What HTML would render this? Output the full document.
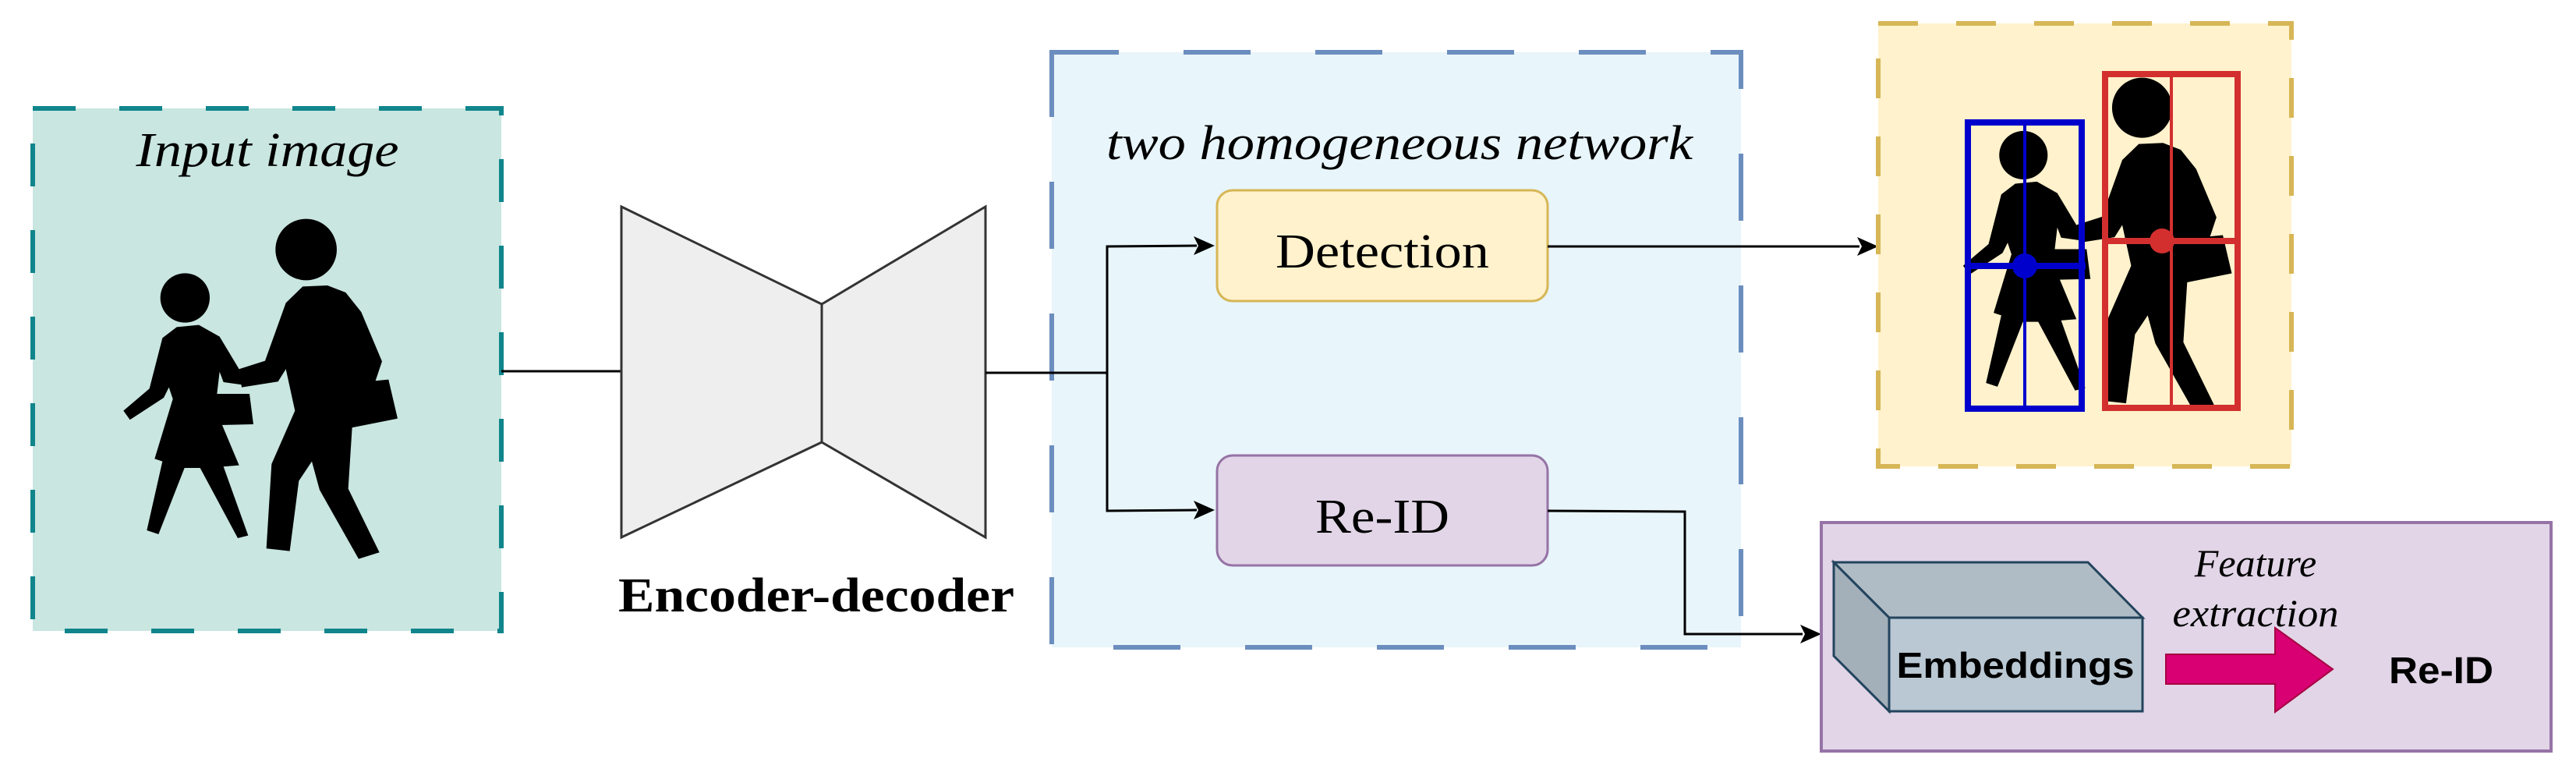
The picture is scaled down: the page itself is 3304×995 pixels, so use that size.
<!DOCTYPE html>
<html><head><meta charset="utf-8"><style>
html,body{margin:0;padding:0;background:#fff;}
svg{display:block;}
</style></head><body>
<svg width="3304" height="995" viewBox="0 0 3304 995" xmlns="http://www.w3.org/2000/svg">
<defs>
<g id="fig">
  <circle cx="262" cy="366" r="95" fill="#000"/>
  <path fill="#000" d="M230,478 L315,470 L395,515 L470,640 L480,700 L410,690 L395,650 L385,735 L410,735 L405,855 L470,1010 L410,1015 L505,1280 L465,1290 L320,1020 L260,1020 L160,1275 L115,1260 L175,995 L145,985 L215,755 L200,710 L180,750 L50,835 L25,800 L125,715 L175,520 Z"/>
  <path fill="#000" d="M378,735 L510,735 L525,852 L400,855 Z"/>
  <circle cx="728" cy="180" r="118" fill="#000"/>
  <path fill="#000" d="M715,322 L810,318 L880,345 L940,420 L1020,610 L995,685 L1045,680 L1080,830 L905,865 L890,1100 L1010,1345 L930,1370 L780,1105 L750,995 L700,1070 L665,1340 L575,1330 L595,1005 L685,800 L650,640 L620,688 L480,710 L470,640 L570,608 L650,385 Z"/>
</g>
</defs>

<rect x="42" y="139" width="601" height="670" fill="#c9e6e0" stroke="#10858c" stroke-width="6" stroke-dasharray="55 56"/>
<text x="343" y="213" text-anchor="middle" font-family="Liberation Serif, serif" font-style="italic" font-size="62" textLength="337" lengthAdjust="spacingAndGlyphs">Input image</text>
<g transform="translate(150,260) scale(0.3333)"><use href="#fig"/></g>

<line x1="643" y1="476" x2="797" y2="476" stroke="#000" stroke-width="3"/>

<polygon points="797,265 1054,390 1054,567 797,689" fill="#eeeeee" stroke="#333" stroke-width="3"/>
<polygon points="1054,390 1264,265 1264,689 1054,567" fill="#eeeeee" stroke="#333" stroke-width="3"/>
<text x="1047" y="784" text-anchor="middle" font-family="Liberation Serif, serif" font-weight="bold" font-size="62" textLength="508" lengthAdjust="spacingAndGlyphs">Encoder-decoder</text>

<rect x="1349" y="67" width="884" height="763" fill="#e8f5fa" stroke="#6c8ebf" stroke-width="6" stroke-dasharray="86 83"/>
<text x="1795" y="204" text-anchor="middle" font-family="Liberation Serif, serif" font-style="italic" font-size="62" textLength="752" lengthAdjust="spacingAndGlyphs">two homogeneous network</text>

<polyline points="1264,478 1420,478" fill="none" stroke="#000" stroke-width="3"/>
<polyline points="1420,655 1420,316 1535,315" fill="none" stroke="#000" stroke-width="3"/>
<polyline points="1420,478 1420,655 1535,654" fill="none" stroke="#000" stroke-width="3"/>
<path d="M1531,303 L1558,315 L1531,327 L1537,315 Z" fill="#000"/>
<path d="M1531,642 L1558,654 L1531,666 L1537,654 Z" fill="#000"/>

<rect x="1561" y="244" width="424" height="142" rx="20" fill="#fff2cc" stroke="#d6b656" stroke-width="3"/>
<text x="1773" y="343" text-anchor="middle" font-family="Liberation Serif, serif" font-size="62" textLength="274" lengthAdjust="spacingAndGlyphs">Detection</text>
<rect x="1561" y="584" width="424" height="141" rx="20" fill="#e1d5e7" stroke="#9673a6" stroke-width="3"/>
<text x="1773" y="683" text-anchor="middle" font-family="Liberation Serif, serif" font-size="62" textLength="172" lengthAdjust="spacingAndGlyphs">Re-ID</text>

<line x1="1985" y1="316" x2="2385" y2="316" stroke="#000" stroke-width="3"/>
<path d="M2382,304 L2409,316 L2382,328 L2388,316 Z" fill="#000"/>

<rect x="2409" y="30" width="530" height="568" fill="#fff2cc" stroke="#d6b656" stroke-width="6" stroke-dasharray="51 49"/>
<g transform="translate(2362.7,-175.4) scale(0.98) translate(150,260) scale(0.3333)"><use href="#fig"/></g>
<rect x="2524" y="157" width="146" height="367" fill="none" stroke="#0000cc" stroke-width="8"/>
<line x1="2597" y1="157" x2="2597" y2="524" stroke="#0000cc" stroke-width="4"/>
<line x1="2521" y1="341" x2="2675" y2="341" stroke="#0000cc" stroke-width="8"/>
<circle cx="2597" cy="341" r="16" fill="#0000cc"/>
<rect x="2700" y="95" width="170" height="428" fill="none" stroke="#d32f2f" stroke-width="8"/>
<line x1="2785" y1="95" x2="2785" y2="523" stroke="#d32f2f" stroke-width="4"/>
<line x1="2700" y1="309" x2="2870" y2="309" stroke="#d32f2f" stroke-width="8"/>
<circle cx="2773" cy="309" r="16" fill="#d32f2f"/>

<polyline points="1985,655 2161,656 2161,813 2312,813" fill="none" stroke="#000" stroke-width="3"/>
<path d="M2309,801 L2336,813 L2309,825 L2315,813 Z" fill="#000"/>

<rect x="2336" y="670" width="936" height="293" fill="#e1d5e7" stroke="#9673a6" stroke-width="4"/>

<polygon points="2352,721 2678,721 2748,792 2423,792" fill="#b0bcc5" stroke="#23445d" stroke-width="3"/>
<polygon points="2352,721 2423,792 2423,912 2352,841" fill="#a3afb9" stroke="#23445d" stroke-width="3"/>
<rect x="2423" y="792" width="325" height="120" fill="#bac8d3" stroke="#23445d" stroke-width="3"/>
<text x="2585" y="869" text-anchor="middle" font-family="Liberation Sans, sans-serif" font-weight="bold" font-size="46" textLength="305" lengthAdjust="spacingAndGlyphs">Embeddings</text>

<polygon points="2778,839 2918,839 2918,805 2992,858 2918,913 2918,877 2778,877" fill="#d80073" stroke="#a50040" stroke-width="2"/>
<text x="2893" y="739" text-anchor="middle" font-family="Liberation Serif, serif" font-style="italic" font-size="50">Feature</text>
<text x="2893" y="803" text-anchor="middle" font-family="Liberation Serif, serif" font-style="italic" font-size="50" textLength="213" lengthAdjust="spacingAndGlyphs">extraction</text>
<text x="3131" y="876" text-anchor="middle" font-family="Liberation Sans, sans-serif" font-weight="bold" font-size="48" textLength="134" lengthAdjust="spacingAndGlyphs">Re-ID</text>
</svg>
</body></html>
